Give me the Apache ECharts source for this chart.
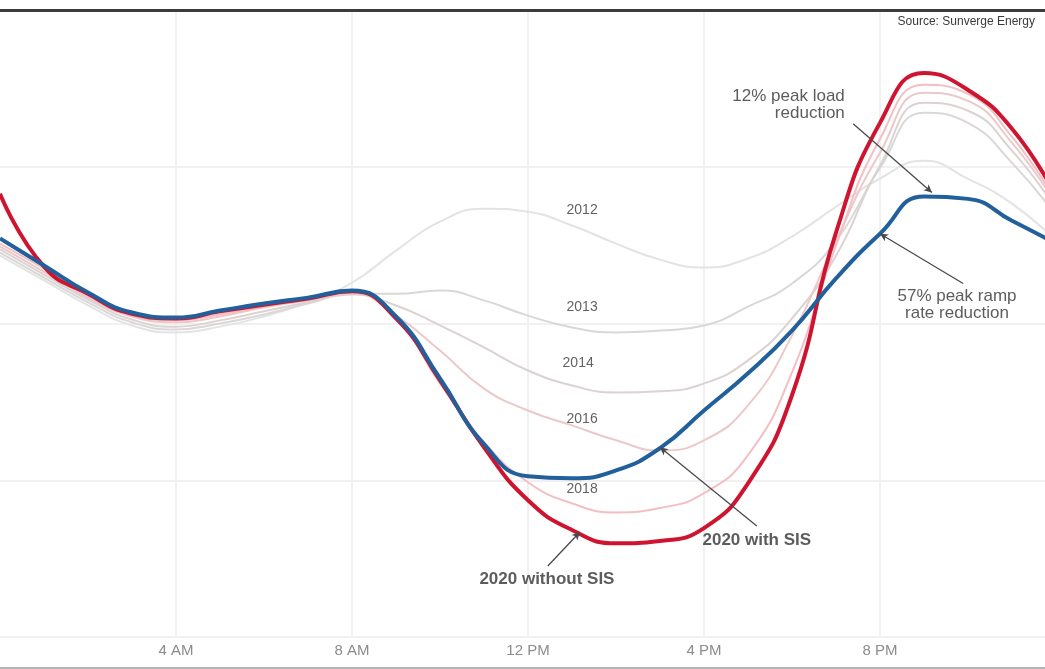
<!DOCTYPE html>
<html>
<head>
<meta charset="utf-8">
<script src="https://cdn.jsdelivr.net/npm/echarts@6/dist/echarts.min.js"></script>
<style>
  html, body { margin: 0; padding: 0; background: #fff; }
  #chart { width: 1045px; height: 669px; }
</style>
</head>
<body>
<div id="chart"></div>
<script>
// Hour of day (0 = midnight)
const hours = [0,1,2,3,4,5,6,7,8,9,10,11,12,13,14,15,16,17,18,19,20,21,22,23,24];

// Net load (GW) by hour for each year
const load2012 = [21.73,21.10,20.46,19.95,19.77,19.92,20.18,20.54,21.04,21.86,22.60,22.93,22.85,22.50,22.04,21.63,21.43,21.66,22.22,22.98,23.70,24.15,23.69,23.06,22.11];
const load2013 = [21.81,21.17,20.54,20.03,19.85,20.00,20.23,20.51,20.76,20.76,20.84,20.59,20.20,19.90,19.77,19.82,19.95,20.43,21.02,22.11,23.97,25.38,25.12,24.10,22.75];
const load2014 = [21.89,21.25,20.61,20.10,19.92,20.08,20.31,20.54,20.74,20.46,19.95,19.39,18.80,18.42,18.24,18.27,18.47,19.06,20.13,21.73,24.03,25.63,25.43,24.41,22.93];
const load2016 = [21.96,21.32,20.66,20.18,20.03,20.18,20.41,20.59,20.76,20.20,19.31,18.34,17.78,17.40,17.02,16.76,17.02,17.91,19.69,22.11,24.36,25.89,25.68,24.61,23.06];
const load2018 = [22.04,21.40,20.71,20.20,20.08,20.23,20.43,20.61,20.79,20.13,18.47,16.97,15.95,15.41,15.18,15.29,15.67,16.64,18.75,21.99,24.71,26.09,25.86,24.76,23.13];
const load2020NoSIS = [23.31,21.45,20.76,20.25,20.13,20.31,20.48,20.64,20.82,20.13,18.55,16.84,15.49,14.73,14.39,14.45,14.78,15.92,18.17,22.32,25.12,26.39,25.96,24.97,23.26];
const load2020SIS = [22.17,21.48,20.79,20.28,20.15,20.33,20.51,20.66,20.84,20.18,18.60,16.92,16.10,16.05,16.25,16.82,17.78,18.73,19.82,21.15,22.29,23.24,23.18,22.62,22.04];

// Axis tick labels every 4 hours
const tickLabels = ['12 AM','4 AM','8 AM','12 PM','4 PM','8 PM','12 AM'];

// Year labels placed beside their curves: [text, hour, GW]
const yearLabels = [
  ['2012', 13.23, 22.90],
  ['2013', 13.23, 20.41],
  ['2014', 13.14, 18.98],
  ['2016', 13.23, 17.55],
  ['2018', 13.23, 15.77]
];

// Callout texts: [text, hour, GW]
const callouts = [
  ['12% peak load\nreduction', 19.2, 25.57],
  ['57% peak ramp\nrate reduction', 21.75, 20.47],
  ['2020 with SIS', 17.2, 14.47],
  ['2020 without SIS', 12.43, 13.48]
];

// Callout arrows: [fromHour, fromGW, toHour, toGW]
const arrows = [
  [19.39, 25.10, 21.18, 23.34],
  [21.89, 21.02, 20.00, 22.29],
  [17.20, 14.83, 15.00, 16.84],
  [12.45, 13.81, 13.18, 14.68]
];

const FONT = '"Liberation Sans", Arial, Helvetica, sans-serif';

// The visible window ends just before midnight
const X_MAX = 23.75;

function pairs(values) {
  return hours.map((h, i) => [h, values[i]]);
}

function yearSeries(name, values, color) {
  return {
    name: name,
    type: 'line',
    data: pairs(values),
    smooth: 0.5,
    showSymbol: false,
    lineStyle: { color: color, width: 2 },
    z: 2,
    silent: true
  };
}

const calloutStyles = [
  { align: 'right', fontWeight: 'normal', fontSize: 17 },
  { align: 'center', fontWeight: 'normal', fontSize: 17 },
  { align: 'center', fontWeight: 'bold', fontSize: 17 },
  { align: 'center', fontWeight: 'bold', fontSize: 17 }
];

const chart = echarts.init(document.getElementById('chart'), null, { renderer: 'canvas' });

chart.setOption({
  animation: false,
  backgroundColor: '#ffffff',
  grid: { left: 0, right: 0, top: 10, bottom: 32, containLabel: false },
  xAxis: [
    {
      type: 'value',
      min: 0,
      max: X_MAX,
      interval: 4,
      offset: 31,
      axisLine: { show: true, lineStyle: { color: '#b4b4b4', width: 2 } },
      axisTick: { show: false },
      axisLabel: {
        inside: true,
        margin: 10,
        showMinLabel: false,
        showMaxLabel: false,
        color: '#8c8c8c',
        fontSize: 15,
        fontFamily: FONT,
        formatter: v => (v % 4 === 0 ? tickLabels[v / 4] : '')
      },
      splitLine: {
        show: true,
        showMinLine: false,
        showMaxLine: false,
        lineStyle: { color: '#f1f1f1', width: 2 }
      }
    },
    {
      type: 'value',
      position: 'top',
      min: 0,
      max: X_MAX,
      interval: 4,
      axisLine: { show: true, lineStyle: { color: '#3c3c3c', width: 3 } },
      axisTick: { show: false },
      axisLabel: { show: false },
      splitLine: { show: false }
    }
  ],
  yAxis: {
    type: 'value',
    min: 12,
    max: 28,
    interval: 4,
    axisLine: { show: false },
    axisTick: { show: false },
    axisLabel: { show: false },
    splitLine: { show: true, lineStyle: { color: '#f1f1f1', width: 2 } }
  },
  graphic: [
    {
      type: 'text',
      right: 10,
      top: 16,
      style: {
        text: 'Source: Sunverge Energy',
        fill: '#3a3a3a',
        font: '500 12px ' + FONT
      }
    }
  ],
  series: [
    yearSeries('2012', load2012, '#e3e3e3'),
    yearSeries('2013', load2013, '#dad7d7'),
    yearSeries('2014', load2014, '#dcd2d2'),
    yearSeries('2016', load2016, '#ebc9c9'),
    yearSeries('2018', load2018, '#f3bfc3'),
    {
      name: '2020 without SIS',
      type: 'line',
      data: pairs(load2020NoSIS),
      smooth: 0.5,
      showSymbol: false,
      lineStyle: { color: '#cf1430', width: 4 },
      z: 3,
      silent: true
    },
    {
      name: '2020 with SIS',
      type: 'line',
      data: pairs(load2020SIS),
      smooth: 0.5,
      showSymbol: false,
      lineStyle: { color: '#22609c', width: 4 },
      z: 4,
      silent: true,
      markLine: {
        silent: true,
        symbol: ['none', 'arrow'],
        symbolSize: [6, 8],
        label: { show: false },
        lineStyle: { color: '#4a4a4a', width: 1.3, type: 'solid' },
        data: arrows.map(a => [{ coord: [a[0], a[1]] }, { coord: [a[2], a[3]] }])
      }
    },
    {
      name: 'year labels',
      type: 'scatter',
      symbolSize: 0,
      z: 6,
      silent: true,
      data: yearLabels.map(d => ({ name: d[0], value: [d[1], d[2]] })),
      label: {
        show: true,
        position: 'inside',
        formatter: p => p.name,
        color: '#3a3a3a',
        fontSize: 14,
        fontFamily: FONT
      }
    },
    {
      name: 'callouts',
      type: 'scatter',
      symbolSize: 0,
      z: 6,
      silent: true,
      data: callouts.map((d, i) => ({
        name: d[0],
        value: [d[1], d[2]],
        label: {
          align: calloutStyles[i].align,
          fontWeight: calloutStyles[i].fontWeight,
          fontSize: calloutStyles[i].fontSize
        }
      })),
      label: {
        show: true,
        position: 'inside',
        formatter: p => p.name,
        color: '#333333',
        lineHeight: 17,
        fontFamily: FONT
      }
    }
  ]
});
</script>
</body>
</html>
